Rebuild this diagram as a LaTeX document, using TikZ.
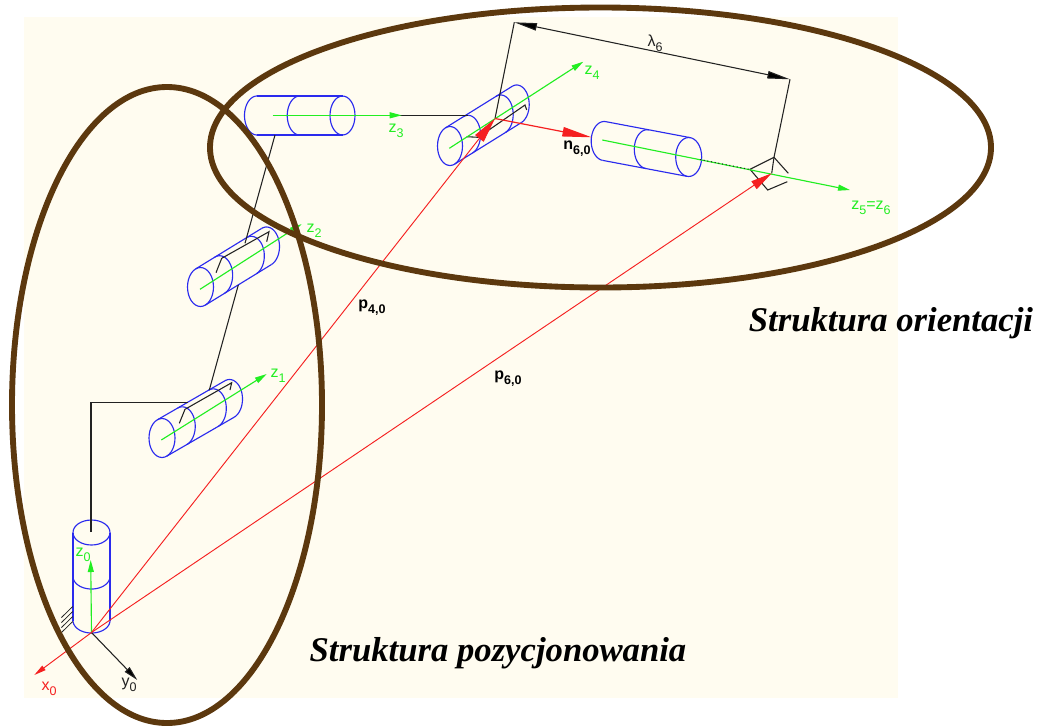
\documentclass[tikz,border=0pt]{standalone}
\usepackage{fontspec}
\setmainfont{Liberation Sans}
\newfontfamily\capfont{Liberation Serif}
\usetikzlibrary{arrows.meta}
\definecolor{paper}{HTML}{FFFCF0}
\definecolor{ringbrown}{HTML}{5C380E}
\definecolor{axisgreen}{HTML}{22EE22}
\definecolor{cylblue}{HTML}{2A2AEE}
\definecolor{vecred}{HTML}{F52020}
\definecolor{linkblack}{HTML}{222222}
\newcommand{\lowidx}[1]{\raisebox{-0.32em}{\fontsize{9.4pt}{9.4pt}\selectfont #1}}
\newcommand{\jointcyl}[7]{%
  \pgfmathsetmacro\cL{veclen(#3,#4)}%
  \pgfmathsetmacro\cNx{-(#4)/\cL}%
  \pgfmathsetmacro\cNy{(#3)/\cL}%
  \pgfmathsetmacro\cPhi{atan2((#6)*\cNy,(#5)*\cNx)}%
  \pgfmathsetmacro\cEnd{\cPhi-180}%
  \pgfmathsetmacro\cTx{(#5)*cos(\cPhi)}%
  \pgfmathsetmacro\cTy{(#6)*sin(\cPhi)}%
  \draw[cylline] (#1,#2) ellipse [x radius=#5,y radius=#6];
  \draw[cylline] ({#1+\cTx},{#2+\cTy}) -- ++(#3,#4);
  \draw[cylline] ({#1-\cTx},{#2-\cTy}) -- ++(#3,#4);
  \foreach \f in {#7}{%
    \draw[cylline] plot[domain=\cPhi:\cEnd,samples=31,smooth,variable=\t]
      ({#1+\f*(#3)+(#5)*cos(\t)},{#2+\f*(#4)+(#6)*sin(\t)});
  }%
}
\tikzset{
  cylline/.style={draw=cylblue,line width=0.85pt},
  greenaxis/.style={draw=axisgreen,line width=0.85pt,-{Triangle[length=9pt,width=4.5pt,fill=axisgreen]}},
  redvec/.style={draw=vecred,line width=0.7pt},
  linkline/.style={draw=linkblack,line width=0.8pt,line join=miter},
  greenlabel/.style={text=axisgreen,font=\fontsize{12pt}{12pt}\selectfont,inner sep=0pt},
  boldlabel/.style={text=black,font=\bfseries\fontsize{12pt}{12pt}\selectfont,inner sep=0pt},
  ring/.style={draw=ringbrown,line width=4.4pt},
  captiontext/.style={text=black,font=\capfont\bfseries\itshape\fontsize{26pt}{26pt}\selectfont,inner sep=0pt}
}
\begin{document}
\begin{tikzpicture}[x=0.75pt,y=-0.75pt]
\useasboundingbox (0,0) rectangle (1042,726);
\fill[white] (0,0) rectangle (1042,726);
\fill[paper] (24,17) rectangle (898,698);

% named points
\coordinate (O) at (91.5,632.5);
\coordinate (W) at (495,118.5);
\coordinate (E) at (771.7,173.3);
\coordinate (xtip) at (34.3,675);
\coordinate (ytip) at (137.3,680);
\coordinate (ntip) at (591.7,137.3);
\coordinate (lamA) at (514.3,22.3);
\coordinate (lamB) at (790,79.3);
\coordinate (frameTop) at (774,157.3);

% cylinders
\jointcyl{91.5}{532.5}{0}{88}{18.5}{12.5}{0.5,1}
\jointcyl{162}{438}{67.5}{-39}{13}{19.5}{0.30,0.76,1}
\jointcyl{200.5}{287}{66}{-40.5}{13}{19.5}{0.29,0.77,1}
\jointcyl{342.5}{115.5}{-85.5}{0}{12.5}{19.5}{0.5,1}
\jointcyl{450}{146}{66.7}{-41.5}{12.5}{19.5}{0.27,0.76,1}
\jointcyl{688.7}{157}{-84.5}{-16}{13}{19.5}{0.49,1}

% hatch of the base
\foreach \d in {0,5,10,15}{
  \draw[linkblack,line width=0.6pt] (72.7,{606.5+\d}) -- (61.5,{617.5+\d});
}

% links
\draw[linkline] (91,532) -- (91,402.5) -- (188,402.5);
\draw[linkline] (179.3,423.3) -- (185,409.3) -- (231.7,382.7) -- (230,390);
\draw[linkline] (209.3,390) -- (238.3,285);
\draw[linkline] (216,272.7) -- (221.7,258.3) -- (269,231.7) -- (266.7,241.7);
\draw[linkline] (245,243.3) -- (275,135);
\draw[linkline] (398,115.3) -- (468.3,115.3);
\draw[linkline] (466.7,136.7) -- (478.3,137.3) -- (525,105) -- (526.7,110);
\draw[linkline] (W) -- (lamA);
\draw[linkline] (lamB) -- (frameTop) -- (E);
\draw[linkline] (788.3,173.3) -- (frameTop) -- (750,169.3) -- (767.7,190) -- (787.3,181.7);
\draw[linkline,{Triangle[length=17pt,width=5.5pt,fill=black]}-{Triangle[length=17pt,width=5.5pt,fill=black]}] (lamA) -- (lamB);

% green axes
\draw[greenaxis] (O) -- (90.7,560);
\draw[greenaxis] (161.3,440) -- (266.7,374);
\draw[greenaxis] (200,289.3) -- (301.7,224);
\draw[greenaxis] (272.7,115.3) -- (401.7,115.3);
\draw[greenaxis] (449.3,148.3) -- (583.3,61.7);
\draw[greenaxis] (602.3,140) -- (850,190);
\draw[linkblack,line width=0.8pt,dotted] (700,159.5) -- (750,169.5);

% black y axis
\draw[linkline,-{Triangle[length=11pt,width=5pt,fill=black]}] (O) -- (ytip);

% red vectors
\draw[redvec,-{Triangle[length=9pt,width=4pt,fill=vecred]}] (O) -- (xtip);
\draw[redvec,-{Triangle[length=19pt,width=8pt,fill=vecred]}] (O) -- (W);
\draw[redvec,-{Triangle[length=16pt,width=7pt,fill=vecred]}] (O) -- (E);
\draw[redvec,line width=0.9pt,-{Triangle[length=22pt,width=7pt,fill=vecred]}] (W) -- (ntip);

% rings
\draw[ring] (167,405) ellipse [x radius=155,y radius=318];
\draw[ring] (600.5,147.5) ellipse [x radius=390.5,y radius=140];

% labels
\node[greenlabel] (lz0) at (83,555) {z\lowidx{0}};
\node[greenlabel] (lz1) at (278,376) {z\lowidx{1}};
\node[greenlabel] (lz2) at (314,231) {z\lowidx{2}};
\node[greenlabel] (lz3) at (396,131) {z\lowidx{3}};
\node[greenlabel] (lz4) at (592,73) {z\lowidx{4}};
\node[greenlabel] (lz5) at (871,208) {z\lowidx{5}=z\lowidx{6}};
\node[text=vecred,font=\fontsize{12pt}{12pt}\selectfont,inner sep=0pt] (lx0) at (49,689) {x\lowidx{0}};
\node[text=linkblack,font=\fontsize{12pt}{12pt}\selectfont,inner sep=0pt] (ly0) at (129,685) {y\lowidx{0}};
\node[boldlabel] (ln) at (577,149) {n\lowidx{6,0}};
\node[boldlabel] (lp4) at (372,308) {p\lowidx{4,0}};
\node[boldlabel] (lp6) at (508,379) {p\lowidx{6,0}};
\node[text=linkblack,font=\fontsize{12pt}{12pt}\selectfont,inner sep=0pt] (llam) at (655,43) {λ\lowidx{6}};
\node[captiontext] (capA) at (891,323.5) {Struktura orientacji};
\node[captiontext] (capB) at (498,653.5) {Struktura pozycjonowania};
\end{tikzpicture}
\end{document}
